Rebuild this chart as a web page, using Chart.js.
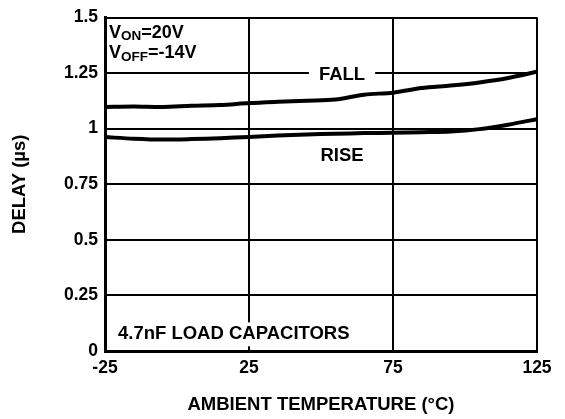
<!DOCTYPE html>
<html>
<head>
<meta charset="utf-8">
<script src="https://cdn.jsdelivr.net/npm/chart.js@4"></script>
<style>
  html, body { margin: 0; padding: 0; background: #fff; }
  #wrap { width: 565px; height: 419px; }
</style>
</head>
<body>
<div id="wrap"><canvas id="chart" width="565" height="419"></canvas></div>
<script>
// temperature points (°C)
const temps = [-25, -15, -5, 5, 15, 25, 35, 45, 55, 65, 75, 85, 95, 105, 115, 125];
// delay values (µs)
const fallDelay = [1.098, 1.100, 1.098, 1.103, 1.106, 1.115, 1.121, 1.126, 1.131, 1.153, 1.162, 1.183, 1.194, 1.208, 1.228, 1.256];
const riseDelay = [0.962, 0.955, 0.951, 0.953, 0.957, 0.963, 0.969, 0.974, 0.977, 0.980, 0.982, 0.984, 0.987, 0.998, 1.018, 1.043];
// tick labels
const xTicks = [-25, 25, 75, 125];
const yTicks = [0, 0.25, 0.5, 0.75, 1, 1.25, 1.5];

const FONT = "'Liberation Sans', Arial, sans-serif";

// text notes drawn on the plot, in data coordinates
const notes = [
    { text: 'FALL', x: 57.3, y: 1.241, align: 'center', box: true, padX: 10 },
    { text: 'RISE', x: 57.3, y: 0.879, align: 'center', box: false },
    { text: '4.7nF LOAD CAPACITORS', x: -20.5, y: 0.075, align: 'left', box: true, padX: 3 }
];

// draw text notes + V_ON / V_OFF with subscripts
const notesPlugin = {
    id: 'notes',
    afterDatasetsDraw(chart) {
        const ctx = chart.ctx;
        const xs = chart.scales.x, ys = chart.scales.y;
        ctx.save();
        ctx.textBaseline = 'middle';
        ctx.font = 'bold 18.5px ' + FONT;
        notes.forEach(n => {
            const px = xs.getPixelForValue(n.x);
            const py = ys.getPixelForValue(n.y);
            const w = ctx.measureText(n.text).width;
            const left = n.align === 'center' ? px - w / 2 : px;
            if (n.box) {
                ctx.fillStyle = '#fff';
                ctx.fillRect(left - n.padX, py - 12, w + n.padX * 2, 24);
            }
            ctx.fillStyle = '#000';
            ctx.textAlign = 'left';
            ctx.fillText(n.text, left, py);
        });

        // subscript labels
        const subLabel = (main, sub, rest, x, y) => {
            let px = xs.getPixelForValue(x);
            const py = ys.getPixelForValue(y);
            ctx.font = 'bold 18px ' + FONT;
            ctx.fillText(main, px, py);
            px += ctx.measureText(main).width;
            ctx.font = 'bold 13.5px ' + FONT;
            ctx.fillText(sub, px, py + 4);
            px += ctx.measureText(sub).width;
            ctx.font = 'bold 18px ' + FONT;
            ctx.fillText(rest, px, py);
        };
        subLabel('V', 'ON', '=20V', -23.6, 1.432);
        subLabel('V', 'OFF', '=-14V', -23.6, 1.338);
        ctx.restore();
    }
};

const ctx = document.getElementById('chart');
new Chart(ctx, {
    type: 'line',
    data: {
        labels: temps,
        datasets: [
            {
                label: 'FALL',
                data: temps.map((t, i) => ({ x: t, y: fallDelay[i] })),
                borderColor: '#000',
                borderWidth: 4,
                pointRadius: 0,
                tension: 0.3,
                fill: false
            },
            {
                label: 'RISE',
                data: temps.map((t, i) => ({ x: t, y: riseDelay[i] })),
                borderColor: '#000',
                borderWidth: 4,
                pointRadius: 0,
                tension: 0.3,
                fill: false
            }
        ]
    },
    options: {
        responsive: false,
        animation: false,
        events: [],
        layout: { padding: { top: 15, right: 28, left: 0, bottom: 0 } },
        plugins: {
            legend: { display: false },
            tooltip: { enabled: false }
        },
        scales: {
            x: {
                type: 'linear',
                min: -25,
                max: 125,
                afterBuildTicks: scale => { scale.ticks = xTicks.map(v => ({ value: v })); },
                afterFit: scale => { scale.height = 68; },
                grid: { color: '#000', lineWidth: 2, drawTicks: false },
                border: { color: '#000', width: 3 },
                ticks: {
                    color: '#000',
                    padding: 7,
                    font: { family: FONT, size: 17.5, weight: 'bold' },
                    maxRotation: 0
                },
                title: {
                    display: true,
                    text: 'AMBIENT TEMPERATURE (°C)',
                    color: '#000',
                    font: { family: FONT, size: 18.5, weight: 'bold' },
                    padding: { top: 0, bottom: 3 }
                }
            },
            y: {
                min: 0,
                max: 1.5,
                afterBuildTicks: scale => { scale.ticks = yTicks.map(v => ({ value: v })); },
                afterFit: scale => { scale.width = 105; },
                grid: { color: '#000', lineWidth: 2, drawTicks: false },
                border: { color: '#000', width: 3 },
                ticks: {
                    color: '#000',
                    padding: 7,
                    font: { family: FONT, size: 17.5, weight: 'bold' },
                    callback: v => String(v)
                },
                title: {
                    display: true,
                    text: 'DELAY (µs)',
                    color: '#000',
                    font: { family: FONT, size: 18.5, weight: 'bold' },
                    padding: { top: 9, bottom: 0 }
                }
            }
        }
    },
    plugins: [notesPlugin]
});
</script>
</body>
</html>
